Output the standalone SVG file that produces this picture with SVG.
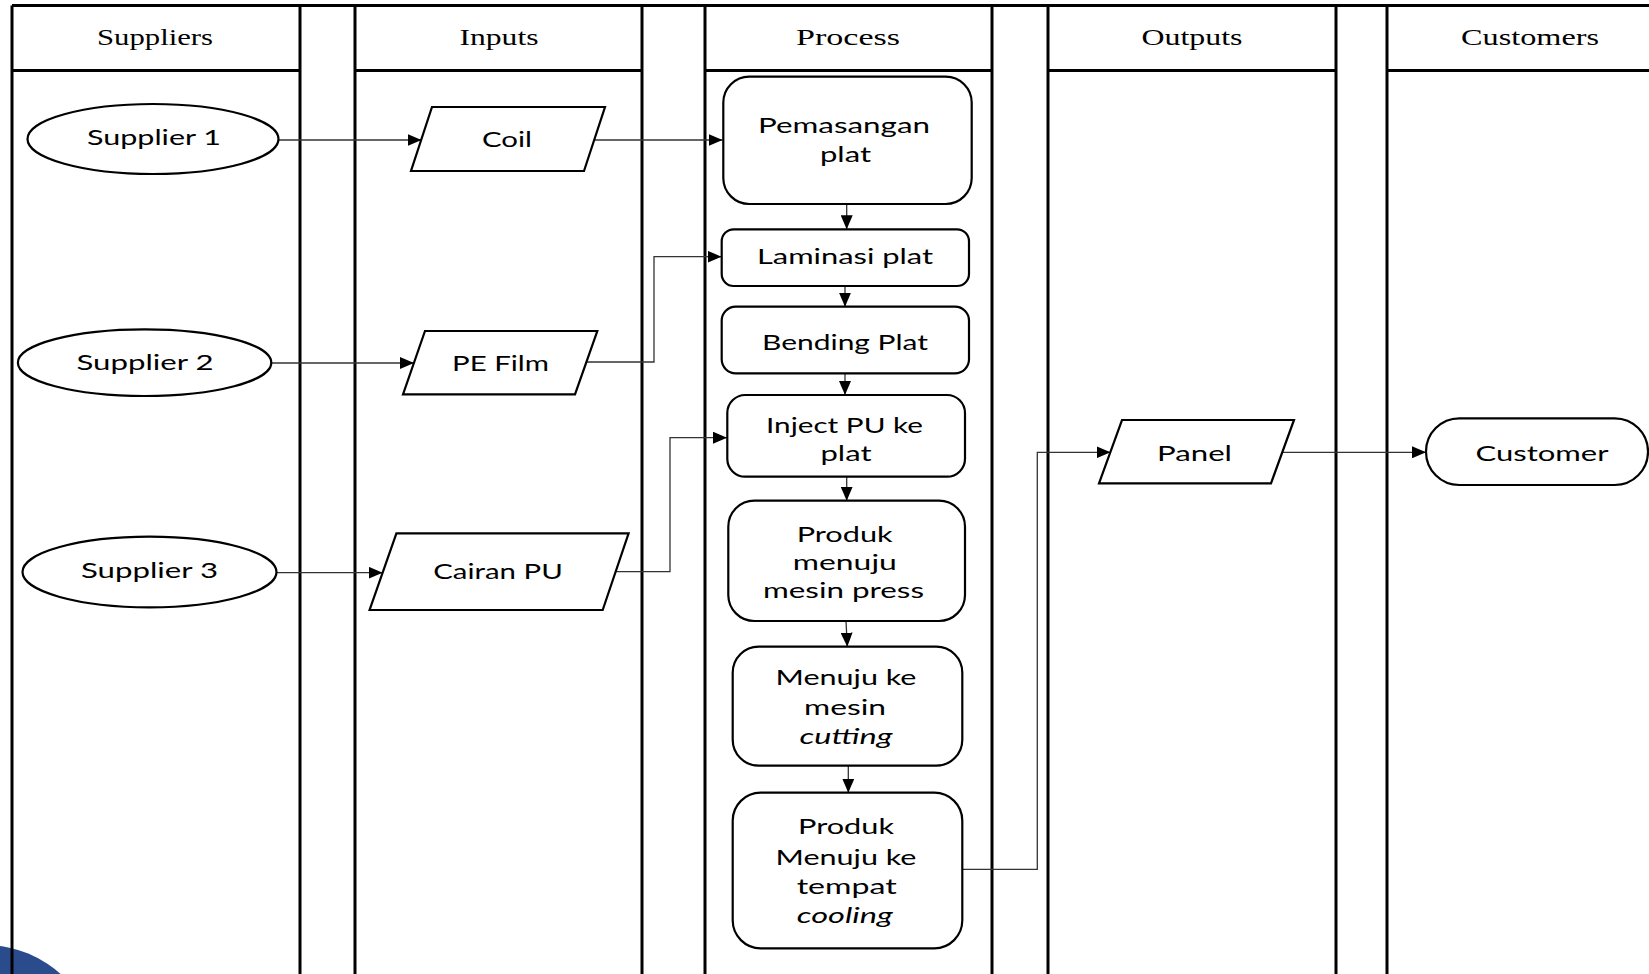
<svg xmlns="http://www.w3.org/2000/svg" width="1649" height="974" viewBox="0 0 1649 974">
<style>
.lane{stroke:#000;stroke-width:3;fill:none}
.hdr{font-family:"Liberation Serif","Times New Roman",serif;font-size:24px;fill:#000;text-anchor:middle}
.shp{fill:#fff;stroke:#000;stroke-width:2.2}
.lbl{font-family:Lato,"Open Sans",sans-serif;font-size:20.5px;fill:#000;text-anchor:middle}
.it{font-style:italic}
.con{fill:none;stroke:#333;stroke-width:1.3}
</style>
<defs>
<marker id="arr" markerUnits="userSpaceOnUse" markerWidth="14" markerHeight="12" refX="14" refY="6" orient="auto">
<path d="M0,0 L14,6 L0,12 z" fill="#000"/>
</marker>
</defs>
<rect width="1649" height="974" fill="#fff"/>
<circle cx="-15" cy="1058" r="113" fill="#2b4c8c"/>
<g id="lanes">
<path class="lane" d="M12 5.5H1649M12 5.5V974M300 5.5V974M355 5.5V974M642 5.5V974M705 5.5V974M992 5.5V974M1048 5.5V974M1336 5.5V974M1387 5.5V974"/>
<path class="lane" d="M12 70.5H300M355 70.5H642M705 70.5H992M1048 70.5H1336M1387 70.5H1649"/>
<text class="hdr" x="155" y="45" textLength="116" lengthAdjust="spacingAndGlyphs">Suppliers</text>
<text class="hdr" x="499" y="45" textLength="79" lengthAdjust="spacingAndGlyphs">Inputs</text>
<text class="hdr" x="848" y="45" textLength="104" lengthAdjust="spacingAndGlyphs">Process</text>
<text class="hdr" x="1192" y="45" textLength="101" lengthAdjust="spacingAndGlyphs">Outputs</text>
<text class="hdr" x="1530" y="45" textLength="138" lengthAdjust="spacingAndGlyphs">Customers</text>
</g>
<g id="connectors">
<path class="con" marker-end="url(#arr)" d="M279 140H421.5"/>
<path class="con" marker-end="url(#arr)" d="M594 140H722.5"/>
<path class="con" marker-end="url(#arr)" d="M271.4 363H414"/>
<path class="con" marker-end="url(#arr)" d="M586.5 362H654V256.7H721.5"/>
<path class="con" marker-end="url(#arr)" d="M277 572.7H382.6"/>
<path class="con" marker-end="url(#arr)" d="M615.6 571.7H670V437.7H727"/>
<path class="con" marker-end="url(#arr)" d="M846.7 204V229.3"/>
<path class="con" marker-end="url(#arr)" d="M845 286V306.7"/>
<path class="con" marker-end="url(#arr)" d="M845 373.3V395"/>
<path class="con" marker-end="url(#arr)" d="M846.7 476.7V500.7"/>
<path class="con" marker-end="url(#arr)" d="M846 621L847.3 646.7"/>
<path class="con" marker-end="url(#arr)" d="M848.3 765.7V792.7"/>
<path class="con" marker-end="url(#arr)" d="M962.3 869.3H1037.3V452.3H1110.5"/>
<path class="con" marker-end="url(#arr)" d="M1282.3 452.3H1426"/>
</g>
<g id="supplier1">
<ellipse class="shp" cx="153" cy="139" rx="125.5" ry="35"/>
<text class="lbl" x="154" y="145" textLength="134" lengthAdjust="spacingAndGlyphs">Supplier 1</text>
</g>
<g id="supplier2">
<ellipse class="shp" cx="144.6" cy="362.7" rx="126.7" ry="33.3"/>
<text class="lbl" x="145" y="370" textLength="137" lengthAdjust="spacingAndGlyphs">Supplier 2</text>
</g>
<g id="supplier3">
<ellipse class="shp" cx="149.5" cy="572" rx="127" ry="35.3"/>
<text class="lbl" x="149.5" y="578.3" textLength="137" lengthAdjust="spacingAndGlyphs">Supplier 3</text>
</g>
<g id="coil">
<polygon class="shp" points="432,107 605,107 584,171 411,171"/>
<text class="lbl" x="507" y="147" textLength="50" lengthAdjust="spacingAndGlyphs">Coil</text>
</g>
<g id="pefilm">
<polygon class="shp" points="425,331 597.3,331 575,394.3 403,394.3"/>
<text class="lbl" x="500.5" y="370.7" textLength="97" lengthAdjust="spacingAndGlyphs">PE Film</text>
</g>
<g id="cairanpu">
<polygon class="shp" points="396.4,533.3 628.6,533.3 602.7,610 369.6,610"/>
<text class="lbl" x="498" y="579.3" textLength="129.5" lengthAdjust="spacingAndGlyphs">Cairan PU</text>
</g>
<g id="pemasangan">
<rect class="shp" x="723.3" y="76.7" width="248.4" height="127.3" rx="26"/>
<text class="lbl" x="844" y="132.7" textLength="172" lengthAdjust="spacingAndGlyphs">Pemasangan</text>
<text class="lbl" x="845.5" y="161.7" textLength="51" lengthAdjust="spacingAndGlyphs">plat</text>
</g>
<g id="laminasi">
<rect class="shp" x="721.7" y="229.3" width="247.3" height="56.7" rx="12"/>
<text class="lbl" x="845" y="264" textLength="176" lengthAdjust="spacingAndGlyphs">Laminasi plat</text>
</g>
<g id="bending">
<rect class="shp" x="721.7" y="306.7" width="247.3" height="66.6" rx="14"/>
<text class="lbl" x="845" y="350" textLength="166" lengthAdjust="spacingAndGlyphs">Bending Plat</text>
</g>
<g id="inject">
<rect class="shp" x="727.3" y="395" width="237.7" height="81.7" rx="18"/>
<text class="lbl" x="844.5" y="433.3" textLength="157" lengthAdjust="spacingAndGlyphs">Inject PU ke</text>
<text class="lbl" x="846" y="461" textLength="51" lengthAdjust="spacingAndGlyphs">plat</text>
</g>
<g id="press">
<rect class="shp" x="728.3" y="500.7" width="236.7" height="120.3" rx="26"/>
<text class="lbl" x="844.7" y="541.7" textLength="96" lengthAdjust="spacingAndGlyphs">Produk</text>
<text class="lbl" x="844.8" y="570" textLength="104" lengthAdjust="spacingAndGlyphs">menuju</text>
<text class="lbl" x="843.5" y="598.3" textLength="161" lengthAdjust="spacingAndGlyphs">mesin press</text>
</g>
<g id="cutting">
<rect class="shp" x="732.7" y="646.7" width="229.6" height="119" rx="26"/>
<text class="lbl" x="846" y="685" textLength="141" lengthAdjust="spacingAndGlyphs">Menuju ke</text>
<text class="lbl" x="845" y="714.5" textLength="82" lengthAdjust="spacingAndGlyphs">mesin</text>
<text class="lbl it" x="846" y="744" textLength="93" lengthAdjust="spacingAndGlyphs">cutting</text>
</g>
<g id="cooling">
<rect class="shp" x="732.7" y="792.7" width="229.6" height="155.6" rx="28"/>
<text class="lbl" x="846" y="834.3" textLength="96" lengthAdjust="spacingAndGlyphs">Produk</text>
<text class="lbl" x="846" y="864.5" textLength="141" lengthAdjust="spacingAndGlyphs">Menuju ke</text>
<text class="lbl" x="846.7" y="894" textLength="100" lengthAdjust="spacingAndGlyphs">tempat</text>
<text class="lbl it" x="844.7" y="923" textLength="96" lengthAdjust="spacingAndGlyphs">cooling</text>
</g>
<g id="panel">
<polygon class="shp" points="1122,420 1294,420 1271,483.3 1099,483.3"/>
<text class="lbl" x="1194.5" y="461" textLength="75" lengthAdjust="spacingAndGlyphs">Panel</text>
</g>
<g id="customer">
<rect class="shp" x="1426" y="418.3" width="222" height="66.7" rx="33.3"/>
<text class="lbl" x="1542" y="461" textLength="133" lengthAdjust="spacingAndGlyphs">Customer</text>
</g>
</svg>
